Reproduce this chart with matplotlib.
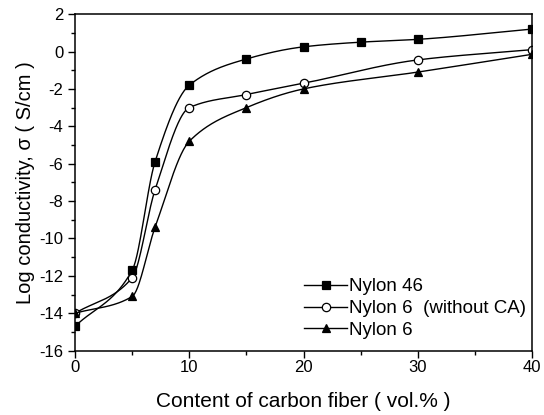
import numpy as np
import matplotlib
matplotlib.use('Agg')
import matplotlib.pyplot as plt
from matplotlib.ticker import MultipleLocator

plt.rcParams['font.family'] = ['Liberation Sans', 'DejaVu Sans']
plt.rcParams['axes.unicode_minus'] = False

# data
x = [0, 5, 7, 10, 15, 20, 25, 30, 40]
nylon46 = [-14.7, -11.7, -5.9, -1.8, -0.4, 0.25, 0.5, 0.65, 1.2]

x_ca = [0, 5, 7, 10, 15, 20, 30, 40]
nylon6_noca = [-14.0, -12.1, -7.4, -3.0, -2.3, -1.7, -0.45, 0.1]

x_n6 = [0, 5, 7, 10, 15, 20, 30, 40]
nylon6 = [-14.0, -13.1, -9.4, -4.8, -3.0, -2.0, -1.1, -0.15]

labels = ['Nylon 46', 'Nylon 6  (without CA)', 'Nylon 6']


def pchip(xs, ys, xn):
    # monotone cubic through the points, for the smooth guide line
    xs = np.asarray(xs, float)
    ys = np.asarray(ys, float)
    h = np.diff(xs)
    d = np.diff(ys) / h
    m = np.zeros_like(ys)
    for k in range(1, len(xs) - 1):
        if d[k - 1] * d[k] > 0:
            w1 = 2 * h[k] + h[k - 1]
            w2 = h[k] + 2 * h[k - 1]
            m[k] = (w1 + w2) / (w1 / d[k - 1] + w2 / d[k])
    m[0] = d[0]
    m[-1] = d[-1]
    idx = np.clip(np.searchsorted(xs, xn) - 1, 0, len(xs) - 2)
    t = (xn - xs[idx]) / h[idx]
    h00 = 2 * t**3 - 3 * t**2 + 1
    h10 = t**3 - 2 * t**2 + t
    h01 = -2 * t**3 + 3 * t**2
    h11 = t**3 - t**2
    return (h00 * ys[idx] + h10 * h[idx] * m[idx]
            + h01 * ys[idx + 1] + h11 * h[idx] * m[idx + 1])


fig = plt.figure(figsize=(5.44, 4.15), dpi=100)
ax = fig.add_axes([0.138, 0.155, 0.840, 0.811])

series = [(x, nylon46, 's', 'black'), (x_ca, nylon6_noca, 'o', 'white'),
          (x_n6, nylon6, '^', 'black')]
xx = np.linspace(0, 40, 600)
for (xs, ys, mk, fc), lab in zip(series, labels):
    ax.plot(xx, pchip(xs, ys, xx), color='black', lw=1.0)
    ax.plot(xs, ys, marker=mk, ls='none', ms=6, mfc=fc, mec='black', mew=0.9)
    ax.plot([], [], color='black', lw=1.0, marker=mk, ms=6, mfc=fc,
            mec='black', mew=0.9, label=lab)

ax.set_xlim(0, 40)
ax.set_ylim(-16, 2)
ax.xaxis.set_major_locator(MultipleLocator(10))
ax.xaxis.set_minor_locator(MultipleLocator(5))
ax.yaxis.set_major_locator(MultipleLocator(2))
ax.yaxis.set_minor_locator(MultipleLocator(1))
ax.tick_params(which='major', direction='out', length=5, width=1, labelsize=12)
ax.tick_params(which='minor', direction='out', length=3, width=1)
ax.tick_params(axis='x', which='major', pad=2)
for s in ax.spines.values():
    s.set_linewidth(1.1)

ax.set_xlabel('Content of carbon fiber ( vol.% )', fontsize=15, labelpad=12)
ax.set_ylabel('Log conductivity, \u03c3 ( S/cm )', fontsize=14.5, labelpad=3)

ax.legend(loc='lower left', bbox_to_anchor=(0.502, 0.035), frameon=False,
          borderpad=0, borderaxespad=0, fontsize=13.5, handlelength=2.25,
          handletextpad=0.15, labelspacing=0.25)

fig.savefig('out.png', dpi=100)
